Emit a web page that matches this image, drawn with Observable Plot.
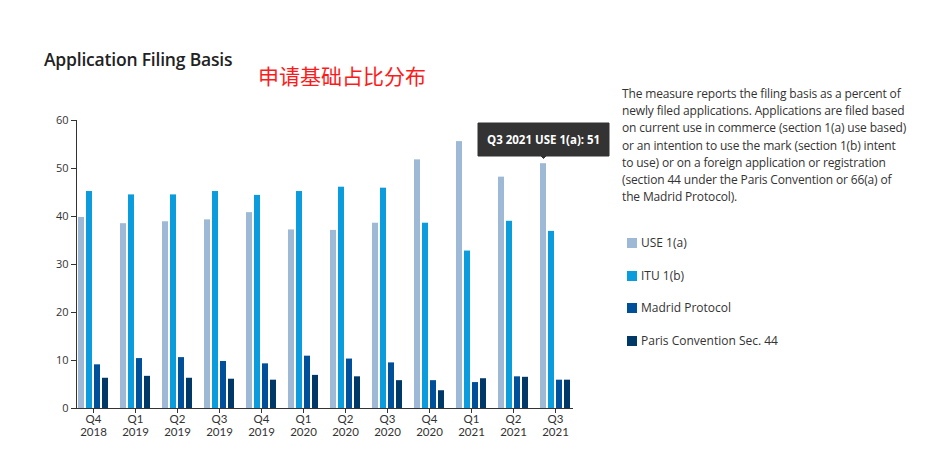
<!DOCTYPE html>
<html>
<head>
<meta charset="utf-8">
<script src="https://cdn.jsdelivr.net/npm/d3@7"></script>
<script src="https://cdn.jsdelivr.net/npm/@observablehq/plot@0.6"></script>
<style>
  html, body { margin: 0; padding: 0; background: #fff; }
  body { width: 930px; height: 459px; position: relative; overflow: hidden; font-family: "Open Sans", "Noto Sans", sans-serif; color: #333; }
  #title { position: absolute; left: 44px; top: 47px; font-size: 17.5px; font-weight: 600; color: #222; letter-spacing: -0.2px; }
  #note { position: absolute; left: 258px; top: 60px; font-size: 21px; color: #ff1a1a; font-family: "Noto Sans CJK SC", sans-serif; }
  #desc { position: absolute; left: 622px; top: 85px; font-size: 12px; line-height: 17.2px; color: #333; white-space: nowrap; letter-spacing: -0.15px; }
  #legend { position: absolute; left: 627px; top: 234px; font-size: 12px; color: #333; }
  #legend .item { height: 32.7px; display: flex; align-items: flex-start; }
  #legend .sw { width: 10px; height: 10px; margin-top: 4px; margin-right: 4px; }
  #chart { position: absolute; left: 0; top: 100px; }
  #chart svg { overflow: visible; }
</style>
</head>
<body>
<div id="title">Application Filing Basis</div>
<div id="note">申请基础占比分布</div>
<div id="desc"></div>
<div id="legend"></div>
<div id="chart"></div>
<script>
const quarters = ["Q4","Q1","Q2","Q3","Q4","Q1","Q2","Q3","Q4","Q1","Q2","Q3"];
const years    = ["2018","2019","2019","2019","2019","2020","2020","2020","2020","2021","2021","2021"];
const series   = ["USE 1(a)", "ITU 1(b)", "Madrid Protocol", "Paris Convention Sec. 44"];
const colors   = ["#9db9d5", "#0a9cdc", "#004f9b", "#003868"];
const use1a    = [39.8, 38.5, 38.9, 39.3, 40.8, 37.2, 37.1, 38.6, 51.8, 55.6, 48.2, 51];
const itu1b    = [45.2, 44.5, 44.5, 45.2, 44.4, 45.2, 46.1, 45.9, 38.6, 32.8, 39.0, 36.9];
const madrid   = [9.1, 10.4, 10.6, 9.8, 9.3, 10.9, 10.3, 9.5, 5.8, 5.4, 6.6, 5.9];
const paris    = [6.3, 6.7, 6.3, 6.1, 5.9, 6.9, 6.6, 5.8, 3.7, 6.2, 6.5, 5.9];
const yTicks   = [0, 10, 20, 30, 40, 50, 60];
const descLines = [
  "The measure reports the filing basis as a percent of",
  "newly filed applications. Applications are filed based",
  "on current use in commerce (section 1(a) use based)",
  "or an intention to use the mark (section 1(b) intent",
  "to use) or on a foreign application or registration",
  "(section 44 under the Paris Convention or 66(a) of",
  "the Madrid Protocol)."
];
const tipSeries = "USE 1(a)";
const tipIndex = 11;

const keys = quarters.map((q, i) => `${q} ${years[i]}`);
const valuesBySeries = [use1a, itu1b, madrid, paris];
const data = [];
keys.forEach((k, i) => series.forEach((s, j) => data.push({key: k, series: s, value: valuesBySeries[j][i]})));

document.getElementById("desc").innerHTML = descLines.map(l => `<div>${l}</div>`).join("");
document.getElementById("legend").innerHTML = series.map((s, i) =>
  `<div class="item"><div class="sw" style="background:${colors[i]}"></div><div>${s}</div></div>`).join("");

const tipData = data.filter(d => d.key === keys[tipIndex] && d.series === tipSeries);

const chart = Plot.plot({
  width: 640,
  height: 348,
  marginLeft: 72,
  marginRight: 63,
  marginTop: 20,
  marginBottom: 40,
  style: {fontFamily: "'Open Sans', sans-serif", fontSize: "11px", color: "#333", background: "transparent", overflow: "visible"},
  fx: {domain: keys, paddingInner: 0.19, paddingOuter: 0.065, label: null},
  x: {domain: series, paddingInner: 0.22, paddingOuter: 0, axis: null},
  y: {domain: [0, 60], label: null},
  color: {domain: series, range: colors},
  marks: [
    Plot.barY(data, {fx: "key", x: "series", y: "value", fill: "series"}),
    Plot.frame({anchor: "left", facet: "super", stroke: "#333"}),
    Plot.frame({anchor: "bottom", facet: "super", stroke: "#333"}),
    Plot.axisY({ticks: yTicks, tickSize: 5, tickPadding: 3, label: null, fontSize: 11}),
    Plot.axisFx({anchor: "bottom", tickSize: 5, tickPadding: 1, label: null, fontSize: 11.5, fontFamily: "Lato",
      tickFormat: k => quarters[keys.indexOf(k)]}),
    Plot.axisFx({anchor: "bottom", tickSize: 0, tickPadding: 19.8, label: null, fontSize: 11.5, fontFamily: "Lato",
      tickFormat: k => years[keys.indexOf(k)]}),
    Plot.tip(tipData, {fx: "key", x: "series", y: "value", anchor: "bottom",
      title: d => `${d.key} ${d.series}: ${d.value}`,
      fill: "#333", stroke: "#333", fontWeight: "bold", fontSize: 11.5, textPadding: 9, pointerSize: 5, dy: -5, pathFilter: "none"})
  ]
});
document.getElementById("chart").appendChild(chart);
chart.querySelectorAll('g[aria-label="tip"] text, g[aria-label="tip"] tspan').forEach(t => { t.setAttribute("fill", "#fff"); t.style.fill = "#fff"; });
chart.querySelectorAll("text").forEach(t => { if (!t.textContent.trim()) t.remove(); });
</script>
</body>
</html>
